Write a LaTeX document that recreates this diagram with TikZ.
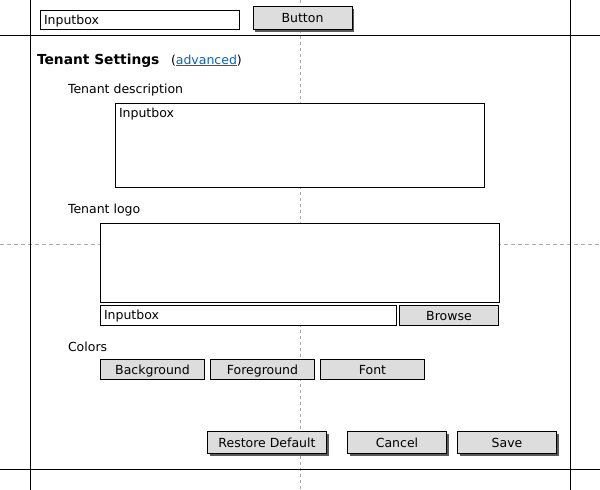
\documentclass[tikz,border=0pt]{standalone}
\usepackage{fontspec}
\setmainfont{DejaVu Sans}
\usetikzlibrary{shadows}
\definecolor{btngray}{HTML}{DDDDDD}
\definecolor{guide}{HTML}{AAAAAA}
\definecolor{linkblue}{HTML}{0066CC}
\begin{document}
\begin{tikzpicture}[x=1pt,y=-1pt,
  txt/.style={anchor=base west,inner sep=0pt,outer sep=0pt,font=\fontsize{12.5}{14}\selectfont},
  head/.style={anchor=base west,inner sep=0pt,outer sep=0pt,font=\fontsize{13.8}{16}\selectfont\bfseries},
  inbox/.style={draw=black,line width=1pt,fill=white,anchor=north west,inner sep=0pt,outer sep=0pt},
  flatbtn/.style={draw=black,line width=1pt,fill=btngray,anchor=north west,inner sep=0pt,outer sep=0pt,text height=9.6pt,text depth=0pt,font=\fontsize{12.5}{14}\selectfont},
  bigbtn/.style={flatbtn,drop shadow={shadow xshift=2pt,shadow yshift=-2pt,fill=black!65,opacity=1}},
  frame/.style={draw=black,line width=1pt},
  guideline/.style={draw=guide,line width=1pt,dash pattern=on 3pt off 3pt}
]
\useasboundingbox[fill=white] (0,0) rectangle (600,490);
% guides
\coordinate (gvT) at (300,0);
\coordinate (gvB) at (300,490);
\coordinate (ghL) at (0,244.5);
\coordinate (ghR) at (600,244.5);
\draw[guideline] (gvT) -- (gvB);
\draw[guideline,dash pattern=on 4pt off 3pt] (ghL) -- (ghR);
% frame lines
\coordinate (vlT) at (30,0);
\coordinate (vlB) at (30,490);
\coordinate (vrT) at (570,0);
\coordinate (vrB) at (570,490);
\coordinate (htL) at (0,35);
\coordinate (htR) at (600,35);
\coordinate (hbL) at (0,469);
\coordinate (hbR) at (600,469);
\draw[frame] (vlT) -- (vlB);
\draw[frame] (vrT) -- (vrB);
\draw[frame] (htL) -- (htR);
\draw[frame] (hbL) -- (hbR);
% top row
\node[inbox,minimum width=199pt,minimum height=19pt] (topin) at (40.5,10) {};
\node[txt] (topintxt) at (44,24) {Inputbox};
\node[bigbtn,minimum width=99pt,minimum height=23pt] (topbtn) at (253,6.5) {Button};
% heading
\node[head] (title) at (37,64) {Tenant Settings};
\node[txt] (adv) at (171,64) {(\textcolor{linkblue}{\underline{advanced}})};
% description
\node[txt] (desclbl) at (68,93) {Tenant description};
\node[inbox,minimum width=369pt,minimum height=84pt] (descbox) at (115.5,103.5) {};
\node[txt] (desctxt) at (119,117) {Inputbox};
% logo
\node[txt] (logolbl) at (68,213) {Tenant logo};
\node[inbox,minimum width=399pt,minimum height=79pt] (logobox) at (100.5,223.5) {};
\node[inbox,minimum width=296pt,minimum height=20pt] (logoin) at (100.5,305.5) {};
\node[txt] (logointxt) at (104,319) {Inputbox};
\node[flatbtn,minimum width=99pt,minimum height=20pt] (browse) at (399.5,305.5) {Browse};
% colors
\node[txt] (colorslbl) at (68,351) {Colors};
\node[flatbtn,minimum width=104pt,minimum height=20pt] (bg) at (100.5,359.5) {Background};
\node[flatbtn,minimum width=104pt,minimum height=20pt] (fg) at (210.5,359.5) {Foreground};
\node[flatbtn,minimum width=104pt,minimum height=20pt] (fontbtn) at (320.5,359.5) {Font};
% bottom buttons
\node[bigbtn,minimum width=119pt,minimum height=22pt] (restore) at (207.5,431.5) {Restore Default};
\node[bigbtn,minimum width=99pt,minimum height=22pt] (cancel) at (347.5,431.5) {Cancel};
\node[bigbtn,minimum width=99pt,minimum height=22pt] (save) at (457.5,431.5) {Save};
\end{tikzpicture}
\end{document}
